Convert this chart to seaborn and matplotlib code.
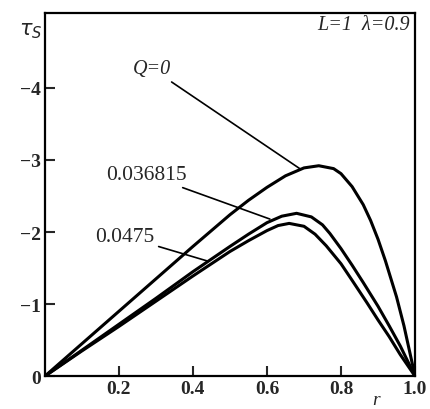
import numpy as np
import pandas as pd
import matplotlib
matplotlib.use("Agg")
import matplotlib.pyplot as plt
import seaborn as sns

# curve values (tau_s magnitude, plotted negative)
r_q0 = [0.0, 0.1, 0.2, 0.3, 0.4, 0.5, 0.55, 0.6, 0.65, 0.7, 0.74, 0.78, 0.8, 0.83, 0.86, 0.88, 0.9, 0.92, 0.95, 0.97, 1.0]
tau_q0 = [0.0, 0.45, 0.9, 1.35, 1.8, 2.24, 2.44, 2.62, 2.78, 2.89, 2.92, 2.88, 2.81, 2.63, 2.38, 2.16, 1.9, 1.6, 1.1, 0.7, 0.0]

r_q1 = [0.0, 0.1, 0.2, 0.3, 0.4, 0.5, 0.55, 0.6, 0.64, 0.68, 0.72, 0.75, 0.77, 0.8, 0.83, 0.86, 0.9, 0.93, 0.96, 1.0]
tau_q1 = [0.0, 0.36, 0.72, 1.08, 1.45, 1.8, 1.97, 2.13, 2.22, 2.26, 2.21, 2.1, 1.98, 1.77, 1.54, 1.3, 0.97, 0.7, 0.42, 0.0]

r_q2 = [0.0, 0.1, 0.2, 0.3, 0.4, 0.5, 0.55, 0.6, 0.63, 0.66, 0.7, 0.73, 0.76, 0.8, 0.83, 0.87, 0.9, 0.93, 0.96, 1.0]
tau_q2 = [0.0, 0.35, 0.69, 1.04, 1.39, 1.73, 1.88, 2.02, 2.09, 2.12, 2.08, 1.97, 1.81, 1.56, 1.33, 1.02, 0.78, 0.55, 0.3, 0.0]

q_labels = ["Q=0", "0.036815", "0.0475"]
x_ticks = [0.2, 0.4, 0.6, 0.8, 1.0]
y_ticks = [0, -1, -2, -3, -4]

frames = []
for lab, rr, tt in zip(q_labels, [r_q0, r_q1, r_q2], [tau_q0, tau_q1, tau_q2]):
    frames.append(pd.DataFrame({"r": rr, "tau": -np.array(tt), "Q": lab}))
df = pd.concat(frames, ignore_index=True)

sns.set_style("ticks")
plt.rcParams['font.family'] = ['Liberation Serif', 'DejaVu Serif']
plt.rcParams['lines.solid_joinstyle'] = 'round'

fig = plt.figure(figsize=(4.31, 4.10), dpi=100)
ax = fig.add_axes([0.104, 0.080, 0.859, 0.886])

sns.lineplot(data=df, x="r", y="tau", hue="Q", palette=["black"] * 3,
             linewidth=2.2, legend=False, ax=ax, sort=False,
             estimator=None)

ax.set_xlim(0, 1.0)
ax.set_ylim(0, -5.04)
ax.set_xticks(x_ticks)
ax.set_xticklabels(["0.2", "0.4", "0.6", "0.8", "1.0"])
ax.set_yticks(y_ticks)
ax.set_yticklabels(["0", "\u22121", "\u22122", "\u22123", "\u22124"])
ax.tick_params(direction="in", length=7, width=1.5, labelsize=14, pad=3)
for lab in ax.get_xticklabels() + ax.get_yticklabels():
    lab.set_fontweight("bold")
for sp in ax.spines.values():
    sp.set_linewidth(1.6)
    sp.set_color("black")
ax.set_xlabel("")
ax.set_ylabel("")

# axis titles
fig.text(0.045, 0.925, r"$\tau_S$", fontsize=15, ha="left", va="center",
         family="DejaVu Serif")
ax.text(0.895, 0.33, "r", fontsize=14, style="italic", ha="center", va="center")
ax.text(0.985, -4.88, "L=1  \u03bb=0.9", fontsize=14.5, style="italic",
        ha="right", va="center")

# curve labels with leader lines
ax.annotate("Q=0", xy=(0.69, -2.875), xytext=(0.34, -4.27),
            fontsize=14.5, style="italic", ha="right", va="center",
            arrowprops=dict(arrowstyle="-", color="black", lw=1.2,
                            shrinkA=1, shrinkB=0))
ax.annotate("0.036815", xy=(0.608, -2.18), xytext=(0.382, -2.8),
            fontsize=15.5, ha="right", va="center",
            arrowprops=dict(arrowstyle="-", color="black", lw=1.2,
                            shrinkA=1, shrinkB=0))
ax.annotate("0.0475", xy=(0.438, -1.6), xytext=(0.295, -1.94),
            fontsize=15.5, ha="right", va="center",
            arrowprops=dict(arrowstyle="-", color="black", lw=1.2,
                            shrinkA=1, shrinkB=0))

fig.savefig("out.png", dpi=100)
